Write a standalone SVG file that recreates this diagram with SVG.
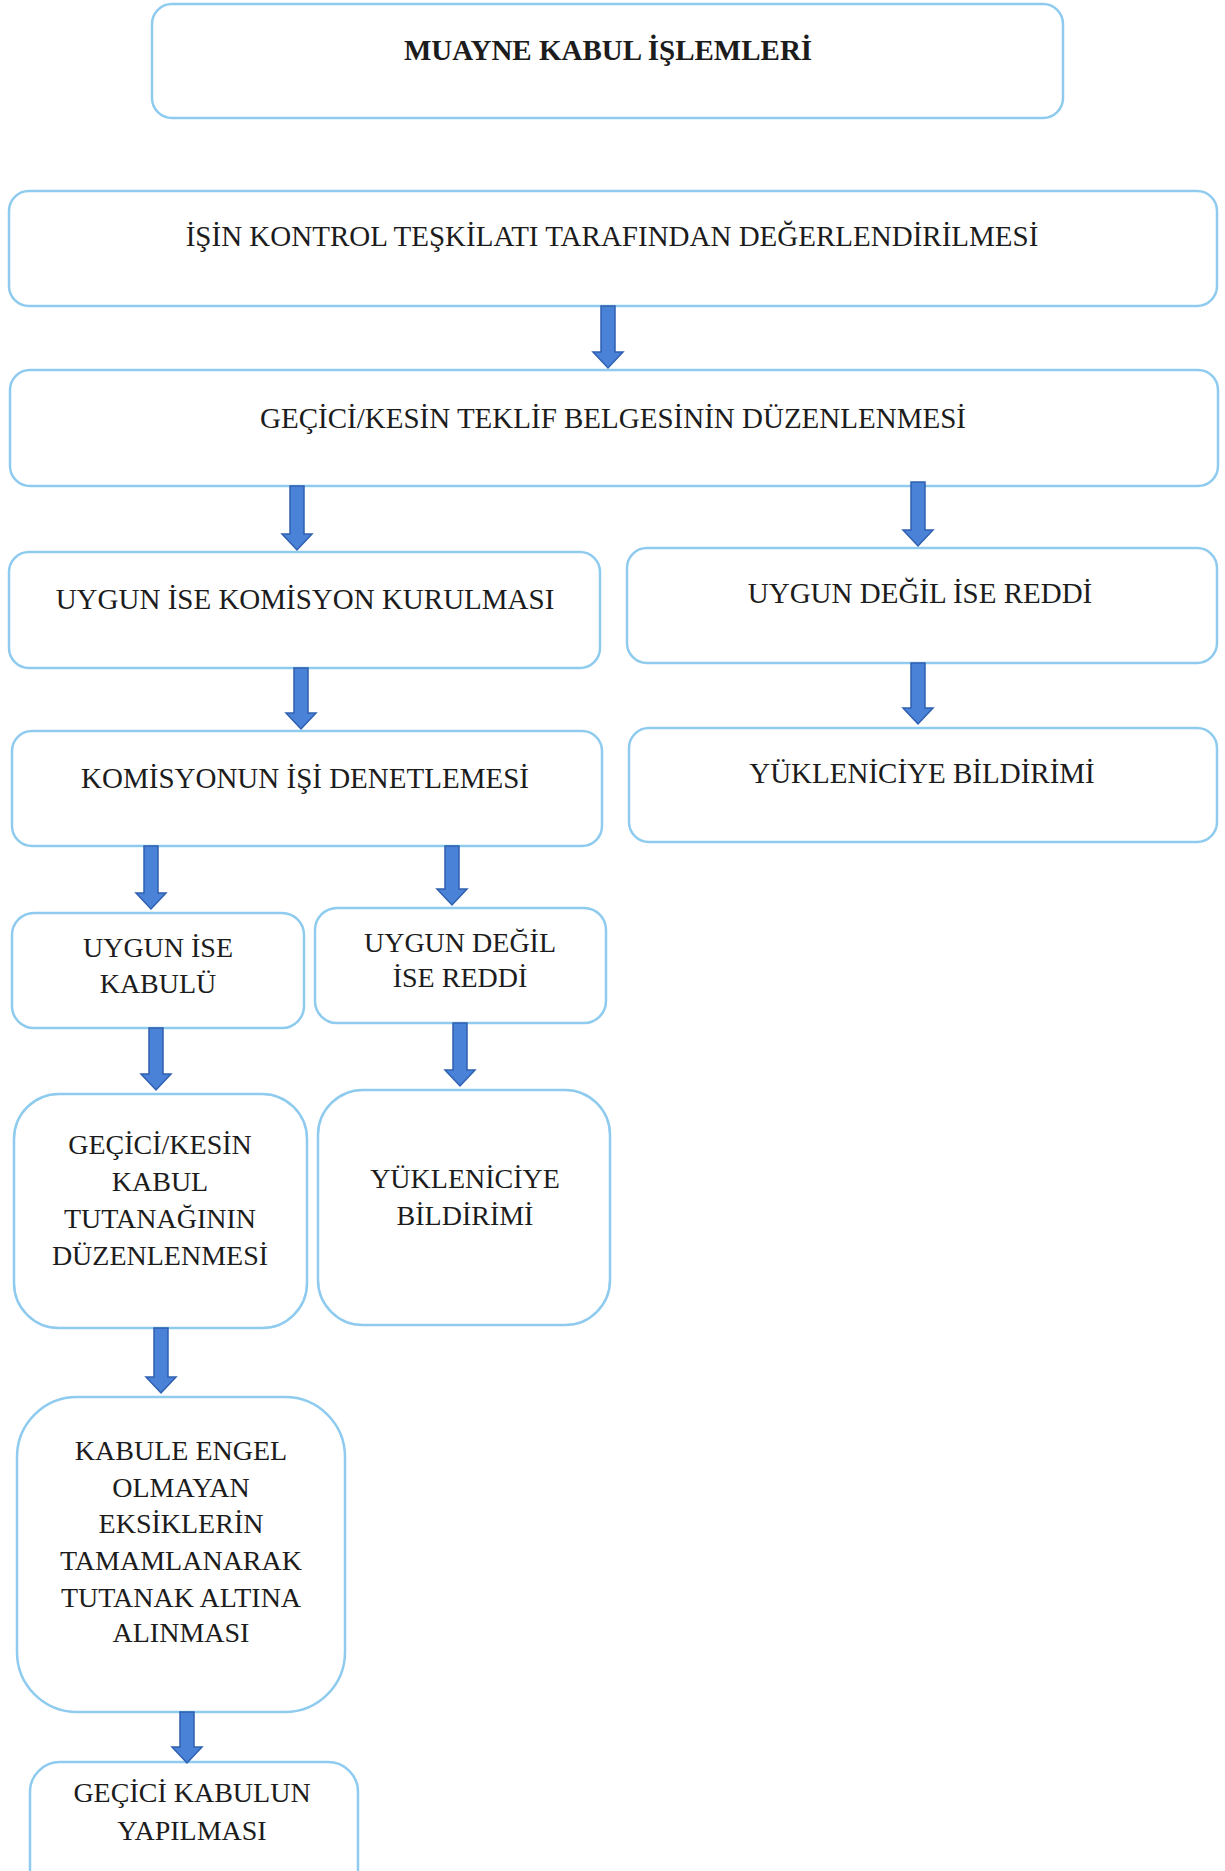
<svg xmlns="http://www.w3.org/2000/svg" width="1225" height="1871" viewBox="0 0 1225 1871">
<style>
.box{fill:#ffffff;stroke:#8ecbef;stroke-width:2.5}
.t{font-family:'Liberation Serif','Times New Roman',Times,serif;font-size:29px;fill:#1c1c1c;text-anchor:middle}
.m{font-size:28px}
.b{font-weight:bold}
.arr{fill:#4a82d8;stroke:#2f60b0;stroke-width:1.5;stroke-linejoin:miter}
</style>
<rect width="1225" height="1871" fill="#ffffff"/>
<g font-family="Liberation Serif, serif">
<g id="n1"><rect class="box" x="152" y="4" width="911" height="114" rx="20"/><text class="t b" x="608" y="60">MUAYNE KABUL İŞLEMLERİ</text></g>
<g id="n2"><rect class="box" x="9" y="191" width="1208" height="115" rx="20"/><text class="t" x="612" y="246">İŞİN KONTROL TEŞKİLATI TARAFINDAN DEĞERLENDİRİLMESİ</text></g>
<g id="n3"><rect class="box" x="10" y="370" width="1208" height="116" rx="20"/><text class="t" x="613" y="428">GEÇİCİ/KESİN TEKLİF BELGESİNİN DÜZENLENMESİ</text></g>
<g id="n4"><rect class="box" x="9" y="552" width="591" height="116" rx="20"/><text class="t" x="305" y="609">UYGUN İSE KOMİSYON KURULMASI</text></g>
<g id="n5"><rect class="box" x="627" y="548" width="590" height="115" rx="20"/><text class="t" x="920" y="603">UYGUN DEĞİL İSE REDDİ</text></g>
<g id="n6"><rect class="box" x="12" y="731" width="590" height="115" rx="20"/><text class="t" x="305" y="788">KOMİSYONUN İŞİ DENETLEMESİ</text></g>
<g id="n7"><rect class="box" x="629" y="728" width="588" height="114" rx="20"/><text class="t" x="922" y="783">YÜKLENİCİYE BİLDİRİMİ</text></g>
<g id="n8"><rect class="box" x="12" y="913" width="292" height="115" rx="22"/><text class="t m" x="158" y="957">UYGUN İSE</text><text class="t m" x="158" y="993">KABULÜ</text></g>
<g id="n9"><rect class="box" x="315" y="908" width="291" height="115" rx="22"/><text class="t m" x="460" y="952">UYGUN DEĞİL</text><text class="t m" x="460" y="987">İSE REDDİ</text></g>
<g id="n10"><rect class="box" x="14" y="1094" width="293" height="234" rx="45"/><text class="t m" x="160" y="1154">GEÇİCİ/KESİN</text><text class="t m" x="160" y="1191">KABUL</text><text class="t m" x="160" y="1228">TUTANAĞININ</text><text class="t m" x="160" y="1265">DÜZENLENMESİ</text></g>
<g id="n11"><rect class="box" x="318" y="1090" width="292" height="235" rx="45"/><text class="t m" x="465" y="1188">YÜKLENİCİYE</text><text class="t m" x="465" y="1225">BİLDİRİMİ</text></g>
<g id="n12"><rect class="box" x="17" y="1397" width="328" height="315" rx="60"/><text class="t m" x="181" y="1460">KABULE ENGEL</text><text class="t m" x="181" y="1497">OLMAYAN</text><text class="t m" x="181" y="1533">EKSİKLERİN</text><text class="t m" x="181" y="1570">TAMAMLANARAK</text><text class="t m" x="181" y="1607">TUTANAK ALTINA</text><text class="t m" x="181" y="1642">ALINMASI</text></g>
<g id="n13"><rect class="box" x="30" y="1762" width="328" height="140" rx="30"/><text class="t m" x="192" y="1802">GEÇİCİ KABULUN</text><text class="t m" x="192" y="1840">YAPILMASI</text></g>
</g>
<g id="connectors">
<path class="arr" d="M601 306 H615 V352 H623 L608 368 L593 352 H601 Z"/>
<path class="arr" d="M290 486 H304 V534 H312 L297 550 L282 534 H290 Z"/>
<path class="arr" d="M911 482 H925 V530 H933 L918 546 L903 530 H911 Z"/>
<path class="arr" d="M294 668 H308 V713 H316 L301 729 L286 713 H294 Z"/>
<path class="arr" d="M911 663 H925 V708 H933 L918 724 L903 708 H911 Z"/>
<path class="arr" d="M144 846 H158 V893 H166 L151 909 L136 893 H144 Z"/>
<path class="arr" d="M445 846 H459 V889 H467 L452 905 L437 889 H445 Z"/>
<path class="arr" d="M149 1028 H163 V1074 H171 L156 1090 L141 1074 H149 Z"/>
<path class="arr" d="M453 1023 H467 V1070 H475 L460 1086 L445 1070 H453 Z"/>
<path class="arr" d="M154 1328 H168 V1377 H176 L161 1393 L146 1377 H154 Z"/>
<path class="arr" d="M180 1712 H194 V1747 H202 L187 1763 L172 1747 H180 Z"/>
</g>
</svg>
